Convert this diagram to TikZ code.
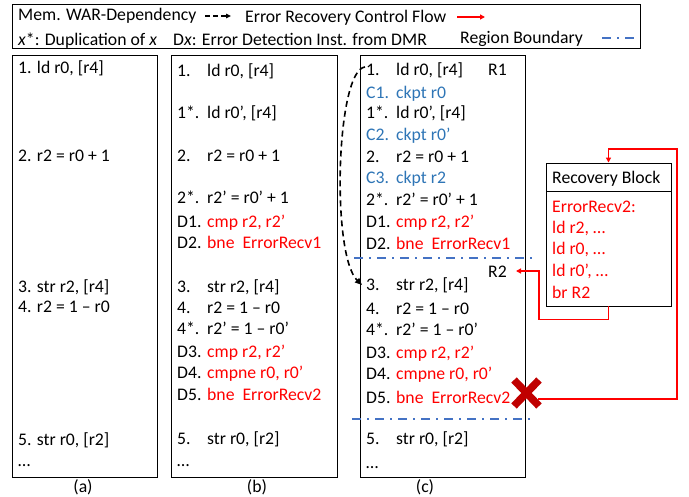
\documentclass[tikz,border=0pt]{standalone}
\usepackage{fontspec}
\setmainfont{Carlito}
\usetikzlibrary{arrows.meta}
\definecolor{errred}{RGB}{255,0,0}
\definecolor{ckblue}{RGB}{46,117,182}
\definecolor{bndblue}{RGB}{68,114,196}
\definecolor{crossred}{RGB}{192,0,0}

% one code line: name, x of label, x of instruction, baseline, label, instruction
\newcommand{\codeln}[6]{%
  \node[txt] (#1l) at (#2,#4) {#5};
  \node[txt] (#1c) at (#3,#4) {#6};}

\begin{document}
\begin{tikzpicture}[x=1pt,y=-1pt,
  txt/.style={anchor=base west, inner sep=0pt, font=\fontsize{17.7}{21}\selectfont},
  sublbl/.style={anchor=base, inner sep=0pt, font=\fontsize{17.7}{21}\selectfont},
  panel/.style={draw=black, line width=0.9pt},
  war/.style={draw=black, line width=1.6pt, dash pattern=on 6pt off 4pt,
    -{Triangle[length=7pt,width=6pt]}},
  errflow/.style={draw=errred, line width=1.4pt, -{Triangle[length=5pt,width=5pt]}},
  bnd/.style={draw=bndblue, line width=1.6pt, dash pattern=on 9pt off 6pt on 2pt off 6pt},
  errtxt/.style={text=errred}]

\useasboundingbox (0,0) rectangle (689,497);

% ---- legend ----
\draw[panel] (12,4) rectangle (640,48);
\node[txt] (lgwar) at (18,21) {Mem. WAR-Dependency};
\coordinate (lgwA) at (205,16);
\coordinate (lgwB) at (231,16);
\draw[war, dash pattern=on 5pt off 3pt, -{Triangle[length=5pt,width=4.5pt]}] (lgwA) -- (lgwB);
\node[txt] (lgerr) at (245,23) {Error Recovery Control Flow};
\coordinate (lgeA) at (457,17);
\coordinate (lgeB) at (485,17);
\draw[errflow] (lgeA) -- (lgeB);
\node[txt] (lgdup) at (18,46) {\textit{x}*: Duplication of \textit{x}};
\node[txt] (lgdet) at (173,46) {D\textit{x}: Error Detection Inst. from DMR};
\node[txt] (lgbnd) at (460,44) {Region Boundary};
\coordinate (lgbA) at (602,38);
\coordinate (lgbB) at (637,38);
\draw[bnd] (lgbA) -- (lgbB);

% ---- panel (a): original code ----
\draw[panel] (12,55) rectangle (157,477);
\node[txt] (a1) at (18,74) {1. ld r0, [r4]};
\node[txt] (a2) at (18,162) {2. r2 = r0 + 1};
\node[txt] (a3) at (18,293) {3. str r2, [r4]};
\node[txt] (a4) at (18,313) {4. r2 = 1 – r0};
\node[txt] (a5) at (18,446) {5. str r0, [r2]};
\node[txt] (a6) at (18,466) {…};
\node[sublbl] (capa) at (83,492) {(a)};

% ---- panel (b): DMR code ----
\draw[panel] (171,55) rectangle (337,477);
\codeln{b1}{177}{207}{77}{1.}{ld r0, [r4]}
\codeln{b1s}{177}{207}{119}{1*.}{ld r0’, [r4]}
\codeln{b2}{177}{207}{162}{2.}{r2 = r0 + 1}
\codeln{b2s}{177}{207}{204}{2*.}{r2’ = r0’ + 1}
\codeln{bd1}{177}{207}{228}{D1.}{\color{errred}cmp r2, r2’}
\codeln{bd2}{177}{207}{249}{D2.}{\color{errred}bne\ \ ErrorRecv1}
\codeln{b3}{177}{207}{293}{3.}{str r2, [r4]}
\codeln{b4}{177}{207}{314}{4.}{r2 = 1 – r0}
\codeln{b4s}{177}{207}{335}{4*.}{r2’ = 1 – r0’}
\codeln{bd3}{177}{207}{358}{D3.}{\color{errred}cmp r2, r2’}
\codeln{bd4}{177}{207}{379}{D4.}{\color{errred}cmpne r0, r0’}
\codeln{bd5}{177}{207}{400}{D5.}{\color{errred}bne\ \ ErrorRecv2}
\codeln{b5}{177}{207}{444}{5.}{str r0, [r2]}
\node[txt] (b6) at (177,466) {…};
\node[sublbl] (capb) at (257,492) {(b)};

% ---- panel (c): DMR code with checkpoints and regions ----
\draw[panel] (360,55) rectangle (525,477);
\node[txt] (r1lbl) at (488,76) {R1};
\codeln{c1}{366}{396}{76}{1.}{ld r0, [r4]}
\codeln{cc1}{366}{396}{99}{\color{ckblue}C1.}{\color{ckblue}ckpt r0}
\codeln{c1s}{366}{396}{119}{1*.}{ld r0’, [r4]}
\codeln{cc2}{366}{396}{141}{\color{ckblue}C2.}{\color{ckblue}ckpt r0’}
\codeln{c2}{366}{396}{163}{2.}{r2 = r0 + 1}
\codeln{cc3}{366}{396}{184}{\color{ckblue}C3.}{\color{ckblue}ckpt r2}
\codeln{c2s}{366}{396}{206}{2*.}{r2’ = r0’ + 1}
\codeln{cd1}{366}{396}{228}{D1.}{\color{errred}cmp r2, r2’}
\codeln{cd2}{366}{396}{250}{D2.}{\color{errred}bne\ \ ErrorRecv1}
\coordinate (bnd1A) at (354,258);
\coordinate (bnd1B) at (537,258);
\draw[bnd] (bnd1A) -- (bnd1B);
\node[txt] (r2lbl) at (488,278) {R2};
\codeln{c3}{366}{396}{291}{3.}{str r2, [r4]}
\codeln{c4}{366}{396}{315}{4.}{r2 = 1 – r0}
\codeln{c4s}{366}{396}{336}{4*.}{r2’ = 1 – r0’}
\codeln{cd3}{366}{396}{359}{D3.}{\color{errred}cmp r2, r2’}
\codeln{cd4}{366}{396}{380}{D4.}{\color{errred}cmpne r0, r0’}
\codeln{cd5}{366}{396}{403}{D5.}{\color{errred}bne\ \ ErrorRecv2}
\coordinate (bnd2A) at (352,419);
\coordinate (bnd2B) at (533,419);
\draw[bnd] (bnd2A) -- (bnd2B);
\codeln{c5}{366}{396}{445}{5.}{str r0, [r2]}
\node[txt] (c6) at (366,468) {…};
\node[sublbl] (capc) at (425,492) {(c)};

% WAR dependency between the load (1) and the store (3)
\coordinate (warA) at (365,67);
\coordinate (warB) at (362,285);
\draw[war] (warA) .. controls (336,70) and (331,255) .. (warB);

% ---- recovery block ----
\node[draw=black, line width=0.9pt, minimum width=125pt, minimum height=143pt,
  inner sep=0pt] (rb) at (608.5,234.5) {};
\draw[line width=0.9pt] (546,191) -- (671,191);
\node[txt] (rbhead) at (552,184) {Recovery Block};
\node[txt, errtxt] (rb1) at (552,213) {ErrorRecv2:};
\node[txt, errtxt] (rb2) at (552,234) {ld r2, …};
\node[txt, errtxt] (rb3) at (552,255) {ld r0, …};
\node[txt, errtxt] (rb4) at (552,277) {ld r0’, …};
\node[txt, errtxt] (rb5) at (552,299) {br R2};

% return from the recovery block to region R2
\coordinate (r2in) at (516,271);
\draw[errflow] (rb.south) -- ++(0,13) -| (539,271) -- (r2in);

% error detected at D5: jump to the recovery block
\coordinate (xm) at (526.5,393);
\coordinate (xout) at (538,399);
\draw[errflow] (xout) -| (677,149) -| (rb.north);
\draw[crossred, line width=7.5pt] (514,380) -- (539,406);
\draw[crossred, line width=7.5pt] (539,380) -- (514,406);

\end{tikzpicture}
\end{document}
